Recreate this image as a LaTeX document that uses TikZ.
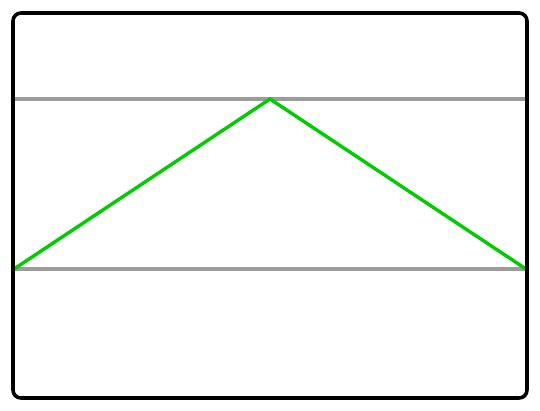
\documentclass[tikz,border=0pt]{standalone}
\usepackage{xcolor}
\definecolor{guidegray}{RGB}{155,155,155}
\definecolor{peakgreen}{RGB}{0,204,0}
\tikzset{
  frame/.style={draw=black, line width=3.6pt, rounded corners=8pt},
  guide/.style={draw=guidegray, line width=3.6pt},
  peak/.style={draw=peakgreen, line width=3.4pt, line join=miter}
}
\begin{document}
\begin{tikzpicture}[x=1pt, y=-1pt]
                    \useasboundingbox (0,0) rectangle (540,411);
                    \coordinate (TL) at (13,13);
                    \coordinate (BR) at (527,398);
                    \coordinate (U1) at (13,99);
                    \coordinate (U2) at (527,99);
                    \coordinate (D1) at (13,269);
                    \coordinate (D2) at (527,269);
                    \coordinate (L) at (14,269);
                    \coordinate (T) at (270,99);
                    \coordinate (R) at (526,269);

                    \draw[guide] (U1) -- (U2);
                    \draw[guide] (D1) -- (D2);

                    \draw[peak] (L) -- (T) -- (R);

                    \draw[frame] (TL) rectangle (BR);
                \end{tikzpicture}
\end{document}
